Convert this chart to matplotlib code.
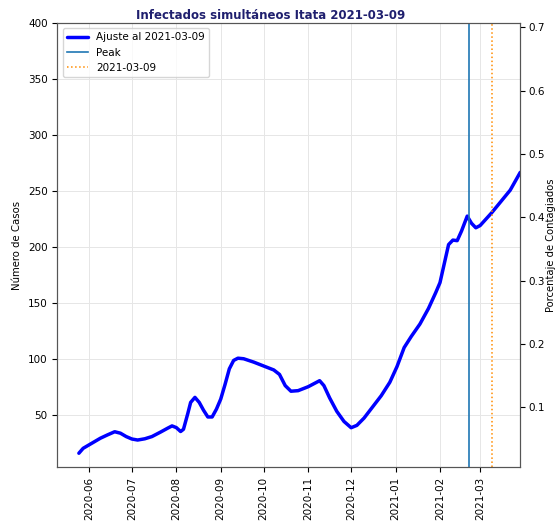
import numpy as np
import pandas as pd
import matplotlib
matplotlib.use("Agg")
import matplotlib.pyplot as plt
import matplotlib.dates as mdates

# curva ajustada
fechas = ["2020-05-25", "2020-05-28", "2020-06-01", "2020-06-05", "2020-06-09",
          "2020-06-14", "2020-06-19", "2020-06-23", "2020-06-27", "2020-07-01",
          "2020-07-05", "2020-07-10", "2020-07-15", "2020-07-21", "2020-07-26",
          "2020-07-29", "2020-08-01", "2020-08-04", "2020-08-06", "2020-08-09",
          "2020-08-11", "2020-08-14", "2020-08-17", "2020-08-20", "2020-08-23",
          "2020-08-26", "2020-08-29", "2020-09-01", "2020-09-04", "2020-09-07",
          "2020-09-10", "2020-09-13", "2020-09-17", "2020-09-24", "2020-10-01",
          "2020-10-08", "2020-10-12", "2020-10-16", "2020-10-20", "2020-10-25",
          "2020-11-01", "2020-11-09", "2020-11-12", "2020-11-16", "2020-11-21",
          "2020-11-26", "2020-12-01", "2020-12-05", "2020-12-10", "2020-12-16",
          "2020-12-22", "2020-12-28", "2021-01-02", "2021-01-07", "2021-01-12",
          "2021-01-18", "2021-01-24", "2021-01-29", "2021-02-01", "2021-02-04",
          "2021-02-07", "2021-02-10", "2021-02-13", "2021-02-16", "2021-02-20",
          "2021-02-23", "2021-02-26", "2021-03-01", "2021-03-09", "2021-03-22",
          "2021-03-29"]
casos = [15.6, 20.0, 23.0, 26.0, 29.0,
         32.0, 34.8, 33.5, 30.5, 28.3,
         27.4, 28.5, 30.5, 34.5, 38.0,
         40.0, 38.5, 35.0, 37.0, 51.0,
         61.0, 65.5, 61.0, 54.0, 48.0,
         48.0, 55.0, 64.0, 77.0, 91.0,
         98.5, 100.5, 100.0, 97.0, 93.5,
         90.0, 86.0, 76.0, 71.0, 71.5,
         75.0, 80.4, 76.0, 65.0, 53.0,
         44.0, 38.4, 40.5, 47.0, 57.0,
         67.0, 79.0, 93.0, 110.0, 120.0,
         131.0, 145.0, 159.0, 168.0, 185.0,
         202.0, 206.0, 205.5, 214.0, 227.4,
         221.0, 217.0, 219.0, 230.3, 250.6,
         266.5]

poblacion = 56570
fecha_peak = "2021-02-21"
fecha_hoy = "2021-03-09"

x = pd.to_datetime(fechas)

fig, ax = plt.subplots(figsize=(5.57, 5.21), dpi=100)
fig.subplots_adjust(left=0.103, right=0.934, top=0.956, bottom=0.103)

ax.plot(x, casos, color='blue', lw=2.5, label='Ajuste al ' + fecha_hoy,
        solid_joinstyle='round', solid_capstyle='round')
ax.axvline(pd.Timestamp(fecha_peak), color='tab:blue', lw=1.2, label='Peak')
ax.axvline(pd.Timestamp(fecha_hoy), color='darkorange', lw=1.1, ls=':',
           label=fecha_hoy)

ax.set_xlim(pd.Timestamp("2020-05-10"), pd.Timestamp("2021-03-29"))
ax.set_ylim(3, 400)
ax.xaxis.set_major_locator(mdates.MonthLocator())
ax.xaxis.set_major_formatter(mdates.DateFormatter('%Y-%m'))
ax.tick_params(axis='x', rotation=90, labelsize=7.5)
ax.tick_params(axis='y', labelsize=7.5)
ax.grid(True, color='#e6e6e6', lw=0.7)
ax.set_ylabel('Número de Casos', fontsize=7.3)
ax.set_title('Infectados simultáneos Itata ' + fecha_hoy, fontsize=8.5,
             fontweight='bold', color='#1f1f6e', pad=3, x=0.46)
ax.legend(loc='upper left', fontsize=7.5)

ax2 = ax.twinx()
lo, hi = ax.get_ylim()
ax2.set_ylim(lo / poblacion * 100, hi / poblacion * 100)
ax2.set_yticks([0.1, 0.2, 0.3, 0.4, 0.5, 0.6, 0.7])
ax2.tick_params(axis='y', labelsize=7.5, pad=2.5)
ax2.set_ylabel('Porcentaje de Contagiados', fontsize=7.2, labelpad=1)

for a in (ax, ax2):
    for s in a.spines.values():
        s.set_color('#555555')

plt.savefig('out.png', dpi=100)
